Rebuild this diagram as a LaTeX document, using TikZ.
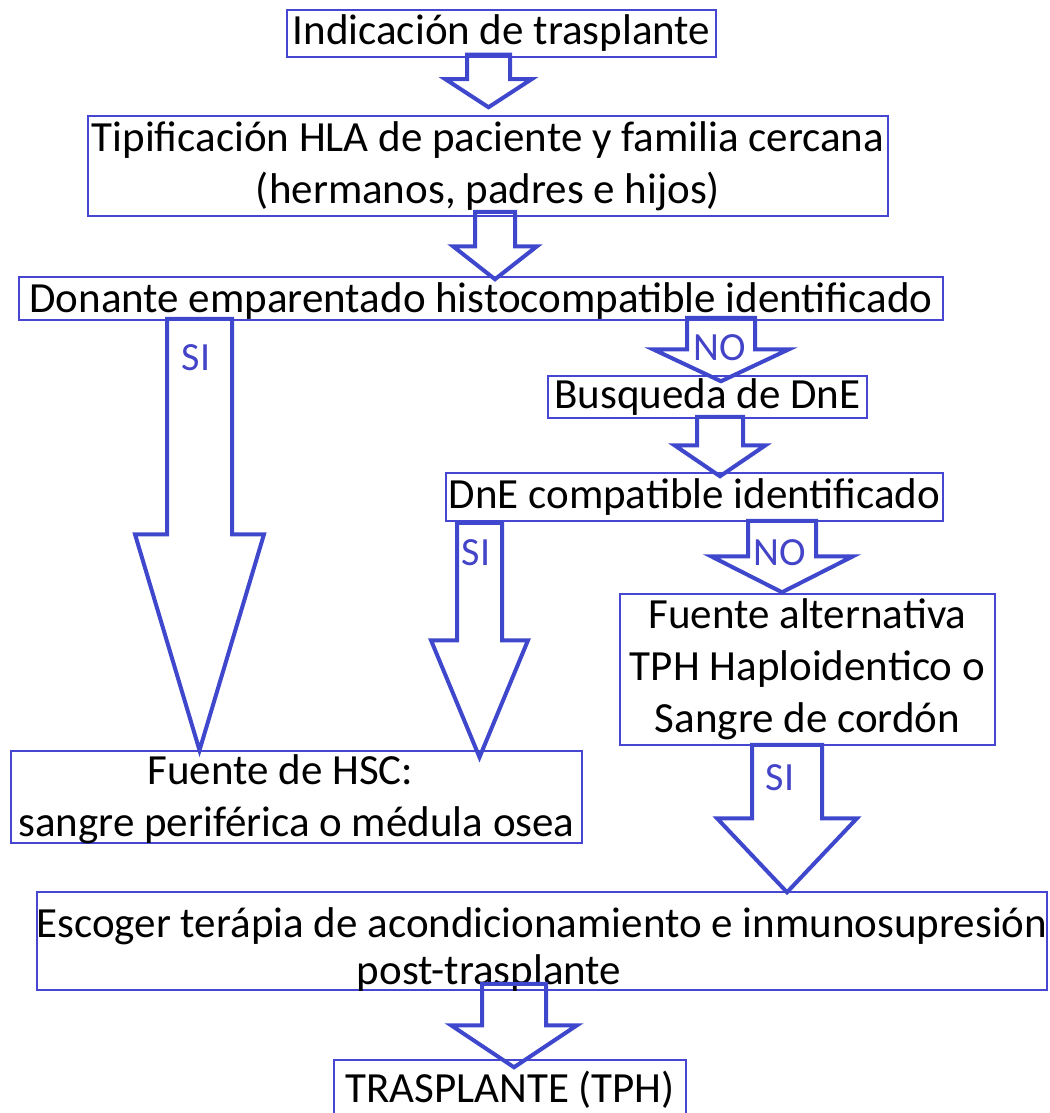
\documentclass[tikz,border=0pt]{standalone}
\usepackage{fontspec}
\setmainfont{Carlito}
\usetikzlibrary{calc}
\definecolor{arrblue}{RGB}{63,72,204}
\definecolor{boxblue}{RGB}{70,70,210}
\definecolor{lblblue}{RGB}{68,68,200}
% #1 src, #2 dst, #3 xc, #4 shaft half width, #5 head half width, #6 top offset (up), #7 tip offset (up), #8 head length
\newcommand\blockarr[8]{%
 \draw[arr] let \p1=(#1.south), \p2=(#2.north) in
 ({(#3-#4)*1pt},{\y1+#6pt}) -- ({(#3-#4)*1pt},{\y2+#7pt+#8pt}) -- ({(#3-#5)*1pt},{\y2+#7pt+#8pt}) -- ({#3*1pt},{\y2+#7pt}) -- ({(#3+#5)*1pt},{\y2+#7pt+#8pt}) -- ({(#3+#4)*1pt},{\y2+#7pt+#8pt}) -- ({(#3+#4)*1pt},{\y1+#6pt}) -- cycle;}
\begin{document}
\begin{tikzpicture}[x=1pt,y=-1pt,
  box/.style={draw=boxblue,line width=1.5pt,inner sep=0pt,align=center,font=\fontsize{43}{52}\selectfont},
  txt/.style={inner sep=0pt,align=center,font=\fontsize{43}{52}\selectfont},
  arr/.style={draw=arrblue,line width=4pt,line join=miter},
  lbl/.style={text=lblblue,font=\fontsize{40}{44}\selectfont,inner sep=0pt}]
\useasboundingbox (0,0) rectangle (1049,1113);

\node[box,minimum width=429,minimum height=47] (b1) at (501.5,33.5) {Indicación de trasplante};
\node[box,minimum width=800,minimum height=100] (b2) at (488,166) {Tipificación HLA de paciente y familia cercana\\(hermanos, padres e hijos)};
\node[box,minimum width=924,minimum height=43] (b3) at (481,298.5) {};
\node[txt] (b3t) at ([yshift=-3pt]b3.center) {Donante emparentado histocompatible identificado};
\node[box,minimum width=319,minimum height=42] (b4) at (707.5,397) {Busqueda de DnE};
\node[box,minimum width=497,minimum height=48] (b5) at (694.5,497) {DnE compatible identificado};
\node[box,minimum width=375,minimum height=151] (b6) at (807.5,669.5) {Fuente alternativa\\TPH Haploidentico o\\Sangre de cordón};
\node[box,minimum width=571,minimum height=92] (b7) at (296.5,797) {};
\node[txt] (b7t) at ([yshift=-2pt]b7.center) {Fuente de HSC:\hspace*{32pt}\\sangre periférica o médula osea};
\node[box,minimum width=1010,minimum height=98] (b8) at (542,941) {};
\node[txt,font=\fontsize{43}{47}\selectfont] (b8t) at ([yshift=-9pt]b8.center) {Escoger terápia de acondicionamiento e inmunosupresión\\\hspace*{-106pt}post-trasplante};
\node[box,minimum width=352,minimum height=56] (b9) at (510,1088) {};
\node[txt] (b9t) at ([yshift=-2pt]b9.center) {TRASPLANTE (TPH)};

\blockarr{b1}{b2}{488.5}{21.5}{43}{3}{8}{28}
\blockarr{b2}{b3}{495}{20}{42}{5}{-3}{33}
\blockarr{b3}{b7}{199.5}{32.5}{64.5}{2}{0}{216}
\blockarr{b3}{b4}{721}{34}{68}{3}{-6}{32}
\blockarr{b4}{b5}{720}{23}{45.5}{2}{-4}{31}
\blockarr{b5}{b7}{479.5}{22.5}{48.5}{-1}{-7}{117}
\blockarr{b5}{b6}{782}{34}{71}{1}{1}{36}
\blockarr{b6}{b8}{787}{35}{70}{1}{-1}{74}
\blockarr{b8}{b9}{514}{32}{63}{7}{-8}{42}

\node[lbl] (s1) at (196,358) {SI};
\node[lbl] (n1) at (720,348) {NO};
\node[lbl] (s2) at (476,553) {SI};
\node[lbl] (n2) at (780,553) {NO};
\node[lbl] (s3) at (780,778) {SI};
\end{tikzpicture}
\end{document}
